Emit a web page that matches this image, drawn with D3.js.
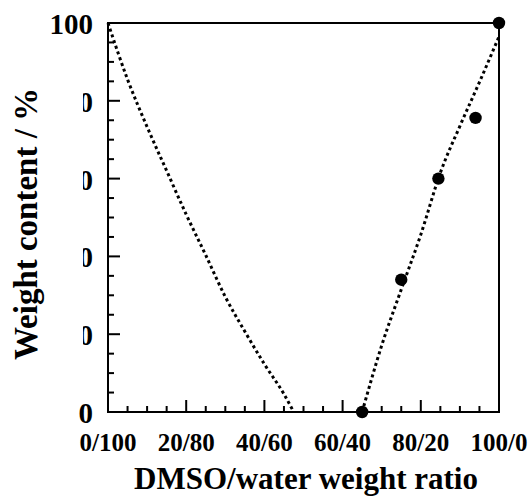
<!DOCTYPE html>
<html>
<head>
<meta charset="utf-8">
<script src="https://cdn.jsdelivr.net/npm/d3@7"></script>
<style>
  html, body { margin: 0; padding: 0; background: #fff; }
  svg text { font-family: "Liberation Serif", "Times New Roman", serif; font-weight: bold; fill: #000; }
</style>
</head>
<body>
<svg id="chart" width="528" height="496"></svg>
<script>
// Measured weight content vs DMSO fraction
const measuredRatio = [65, 75, 84.5, 94, 100];
const measuredContent = [0, 34, 60, 75.6, 100];

// Left dotted curve (water-rich branch)
const leftCurveRatio = [0, 5, 10, 15, 20, 25, 30, 35, 40, 45, 47.5];
const leftCurveContent = [100, 85.5, 73.3, 62, 50.8, 40.3, 29.6, 20.7, 12.3, 4.6, 0];

// Right dotted curve (DMSO-rich branch)
const rightCurveRatio = [65, 70, 75, 80, 85, 90, 95, 100];
const rightCurveContent = [0, 17.1, 31.5, 45.6, 61.5, 73.5, 84.8, 96.5];

// Axis ticks and labels
const xTicks = [0, 20, 40, 60, 80, 100];
const xTickLabels = ["0/100", "20/80", "40/60", "60/40", "80/20", "100/0"];
const yTicks = [0, 20, 40, 60, 80, 100];
const yTickLabels = ["0", "20", "40", "60", "80", "100"];

const svg = d3.select("#chart");
const margin = { left: 108, right: 29, top: 23, bottom: 84 };
const W = 528, H = 496;
const x = d3.scaleLinear().domain([0, 100]).range([margin.left, W - margin.right]);
const y = d3.scaleLinear().domain([0, 100]).range([H - margin.bottom, margin.top]);

const minorTicks = d3.range(0, 101, 5);

// Frame
svg.append("rect")
  .attr("x", x(0)).attr("y", y(100))
  .attr("width", x(100) - x(0)).attr("height", y(0) - y(100))
  .attr("fill", "none").attr("stroke", "#000").attr("stroke-width", 2);

// Inward ticks on bottom axis
const xg = svg.append("g");
xg.selectAll("line").data(minorTicks).join("line")
  .attr("x1", d => x(d)).attr("x2", d => x(d))
  .attr("y1", y(0)).attr("y2", d => y(0) - (d % 20 === 0 ? 12 : 6))
  .attr("stroke", "#000").attr("stroke-width", 2);
xg.selectAll("text").data(xTicks).join("text")
  .attr("x", d => x(d)).attr("y", 451)
  .attr("text-anchor", "middle")
  .attr("font-size", 25)
  .text((d, i) => xTickLabels[i]);

// Inward ticks on left axis
const yg = svg.append("g");
yg.selectAll("line").data(minorTicks).join("line")
  .attr("y1", d => y(d)).attr("y2", d => y(d))
  .attr("x1", x(0)).attr("x2", d => x(0) + (d % 20 === 0 ? 12 : 6))
  .attr("stroke", "#000").attr("stroke-width", 2);

// Inner tick labels are partly hidden behind the axis title column
svg.append("clipPath").attr("id", "ylabclip")
  .append("rect").attr("x", 83).attr("y", 0).attr("width", 30).attr("height", H);

yg.selectAll("text").data(yTicks).join("text")
  .attr("x", 93).attr("y", d => y(d) + 11)
  .attr("text-anchor", "end")
  .attr("font-size", 29)
  .attr("clip-path", d => (d === 0 || d === 100) ? null : "url(#ylabclip)")
  .text((d, i) => yTickLabels[i]);

// Dotted guide curves
const curve = d3.line().x(d => x(d[0])).y(d => y(d[1])).curve(d3.curveMonotoneX);
const leftPts = leftCurveRatio.map((r, i) => [r, leftCurveContent[i]]);
const rightPts = rightCurveRatio.map((r, i) => [r, rightCurveContent[i]]);
[leftPts, rightPts].forEach(pts => {
  svg.append("path").datum(pts)
    .attr("d", curve)
    .attr("fill", "none").attr("stroke", "#000")
    .attr("stroke-width", 3)
    .attr("stroke-dasharray", "3,3");
});

// Measured points
svg.append("g").selectAll("circle")
  .data(measuredRatio.map((r, i) => [r, measuredContent[i]]))
  .join("circle")
  .attr("cx", d => x(d[0])).attr("cy", d => y(d[1]))
  .attr("r", 6.2).attr("fill", "#000");

// Axis titles
svg.append("text")
  .attr("x", 306).attr("y", 489)
  .attr("text-anchor", "middle")
  .attr("font-size", 31)
  .text("DMSO/water weight ratio");

svg.append("text")
  .attr("transform", "translate(37,224) rotate(-90)")
  .attr("text-anchor", "middle")
  .attr("font-size", 33)
  .text("Weight content / %");
</script>
</body>
</html>
